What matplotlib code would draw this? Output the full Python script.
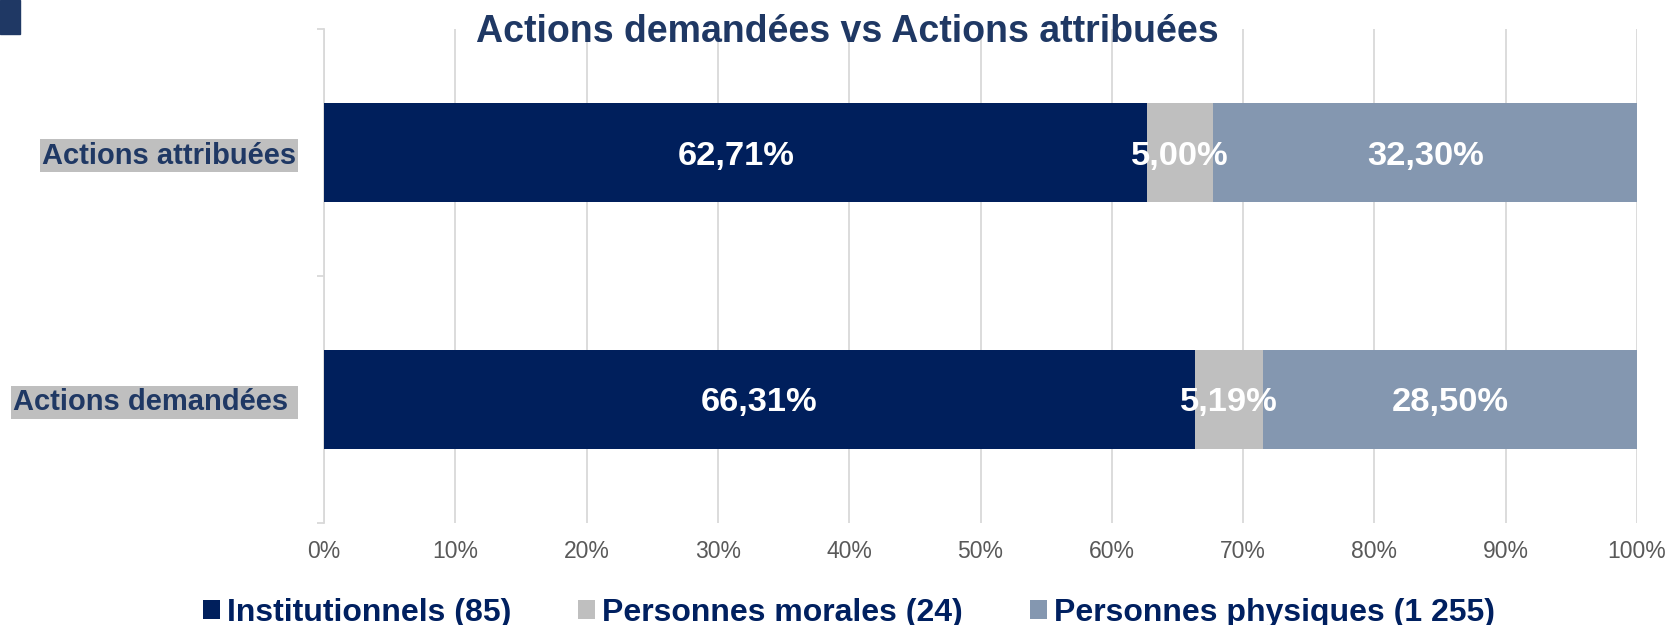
import matplotlib
matplotlib.use("Agg")
import matplotlib.pyplot as plt
from matplotlib.patches import Rectangle

plt.rcParams["font.family"] = ["Liberation Sans", "DejaVu Sans"]

CATEGORIES = ["Actions demandées ", "Actions attribuées"]
SERIES = ["Institutionnels (85)", "Personnes morales (24)", "Personnes physiques (1 255)"]
VALUES = {
    "Institutionnels (85)":        [66.31, 62.71],
    "Personnes morales (24)":      [5.19, 5.00],
    "Personnes physiques (1 255)": [28.50, 32.30],
}
XTICKS = [0, 10, 20, 30, 40, 50, 60, 70, 80, 90, 100]

COLS = ["#001F5C", "#BFBFBF", "#8497B0"]
TITLE_COL = "#1F3864"
LEG_COL = "#002060"

fig = plt.figure(figsize=(16.71, 6.25), dpi=100)
ax = fig.add_axes([0.1939, 0.1632, 0.7858, 0.7904])

ypos = list(range(len(CATEGORIES)))
left = [0.0] * len(CATEGORIES)
for name, col in zip(SERIES, COLS):
    vals = VALUES[name]
    bars = ax.barh(ypos, vals, left=left, height=0.4, color=col,
                   label=name, zorder=3)
    for b, v in zip(bars, vals):
        cx = b.get_x() + b.get_width() / 2
        ax.text(cx, b.get_y() + b.get_height() / 2,
                f"{v:.2f}%".replace(".", ","), ha="center",
                va="center_baseline", color="white", fontsize=24.8,
                fontweight="bold", zorder=4)
    left = [l + v for l, v in zip(left, vals)]

ax.set_xlim(0, 100)
ax.set_ylim(-0.5, 1.5)
ax.set_xticks(XTICKS)
ax.set_xticklabels([f"{t}%" for t in XTICKS], fontsize=16.5, color="#595959")
ax.tick_params(axis="x", length=0, pad=12)
ax.grid(axis="x", color="#D9D9D9", lw=1.3, zorder=0)

ax.set_yticks(ypos)
ax.set_yticklabels(CATEGORIES, fontsize=21, fontweight="bold", color=TITLE_COL)
for lab in ax.get_yticklabels():
    lab.set_bbox(dict(facecolor="#BFBFBF", edgecolor="none", pad=1.5))
ax.tick_params(axis="y", length=0, pad=20)
ax.set_yticks([-0.5, 0.5, 1.5], minor=True)
ax.tick_params(axis="y", which="minor", length=5, color="#D9D9D9", width=1.3)

for s in ["top", "right", "bottom"]:
    ax.spines[s].set_visible(False)
ax.spines["left"].set_color("#D9D9D9")
ax.spines["left"].set_linewidth(1.3)

fig.text(0.507, 0.948, "Actions demandées vs Actions attribuées",
         ha="center", va="center", fontsize=27, fontweight="bold",
         color=TITLE_COL)

fig.patches.append(Rectangle((0, 1 - 34 / 625), 20 / 1671, 34 / 625,
                             transform=fig.transFigure, color=TITLE_COL))

leg = fig.legend(loc="center", bbox_to_anchor=(0.508, 0.02), ncol=3,
                 frameon=False, fontsize=23, handlelength=0.53,
                 handleheight=0.53, handletextpad=0.22, columnspacing=2.1,
                 borderpad=0, borderaxespad=0)
for t in leg.get_texts():
    t.set_color(LEG_COL)
    t.set_fontweight("bold")

fig.savefig("out.png")
